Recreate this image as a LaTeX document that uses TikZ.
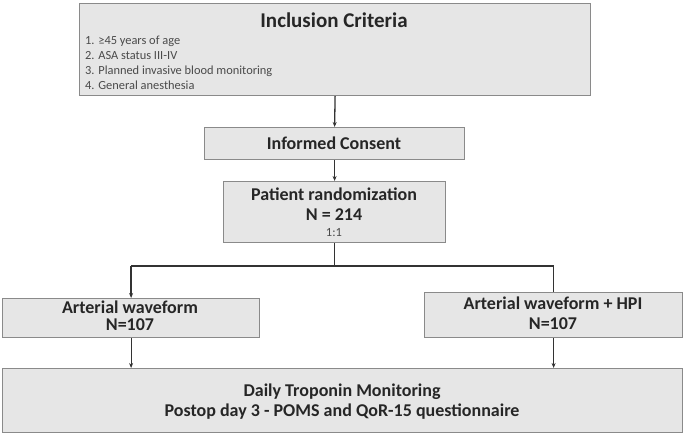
\documentclass[tikz,border=0pt]{standalone}
\usepackage{fontspec}
\setmainfont{Carlito}
\usetikzlibrary{arrows.meta}
\definecolor{boxfill}{HTML}{E6E6E6}
\definecolor{boxline}{HTML}{8A8A8A}
\definecolor{txt}{HTML}{262626}
\definecolor{listtxt}{HTML}{4A4A4A}
\definecolor{conn}{HTML}{333333}
\tikzset{
  box/.style={draw=boxline, fill=boxfill, line width=1.2pt, anchor=north west, inner sep=0pt},
  bold17/.style={text=txt, font=\fontsize{18}{21}\selectfont\bfseries, inner sep=0pt},
  conn/.style={draw=conn, line width=1.3pt},
  arr/.style={conn, -{Stealth[length=5pt,width=4pt]}},
  thinarr/.style={draw=conn, line width=0.8pt, -{Stealth[length=5pt,width=4pt]}},
}
\begin{document}
\begin{tikzpicture}[x=1pt,y=-1pt]
\useasboundingbox (0,0) rectangle (685,435);
% boxes
\node[box, minimum width=511pt, minimum height=92pt] (top) at (79,3) {};
\node[box, minimum width=260pt, minimum height=32pt] (ic) at (204,127) {};
\node[box, minimum width=222pt, minimum height=61pt] (pr) at (223,181) {};
\node[box, minimum width=257pt, minimum height=39pt] (left) at (2,298) {};
\node[box, minimum width=258pt, minimum height=45pt] (right) at (424,292) {};
\node[box, minimum width=680pt, minimum height=64pt] (bot) at (2,368) {};
% texts
\node[text=txt, font=\fontsize{21}{25}\selectfont\bfseries, inner sep=0pt] (toptitle) at (334,20) {Inclusion Criteria};
\node[text=listtxt, font=\fontsize{12.4}{14.8}\selectfont, align=left, anchor=west, inner sep=0pt] (toplist) at (85,63)
  {1. ≥45 years of age\\2. ASA status III-IV\\3. Planned invasive blood monitoring\\4. General anesthesia};
\node[bold17] (ictext) at (334,143) {Informed Consent};
\node[bold17] (prtext1) at (334,194) {Patient randomization};
\node[bold17] (prtext2) at (334,215) {N = 214};
\node[text=listtxt, font=\fontsize{12.5}{14}\selectfont, inner sep=0pt] (prtext3) at (334,233) {1:1};
\node[bold17] (lefttext1) at (130,307) {Arterial waveform};
\node[bold17] (lefttext2) at (130,325) {N=107};
\node[bold17] (righttext1) at (553,303) {Arterial waveform + HPI};
\node[bold17] (righttext2) at (553,324) {N=107};
\node[bold17] (bottext1) at (342,392) {Daily Troponin Monitoring};
\node[bold17] (bottext2) at (342,412) {Postop day 3 - POMS and QoR-15 questionnaire};
% connectors
\coordinate (split) at (334,266);
\draw[arr] (top.south) -- (ic.north);
\draw[arr] (ic.south) -- (pr.north);
\draw[conn] (pr.south) -- (pr.south |- split);
\draw[conn] (left.north |- split) -- (right.north |- split);
\draw[arr] (left.north |- split) -- (left.north);
\draw[conn] (right.north |- split) -- (right.north);
\draw[thinarr] (left.south) -- (left.south |- bot.north);
\draw[thinarr] (right.south) -- (right.south |- bot.north);
\end{tikzpicture}
\end{document}
